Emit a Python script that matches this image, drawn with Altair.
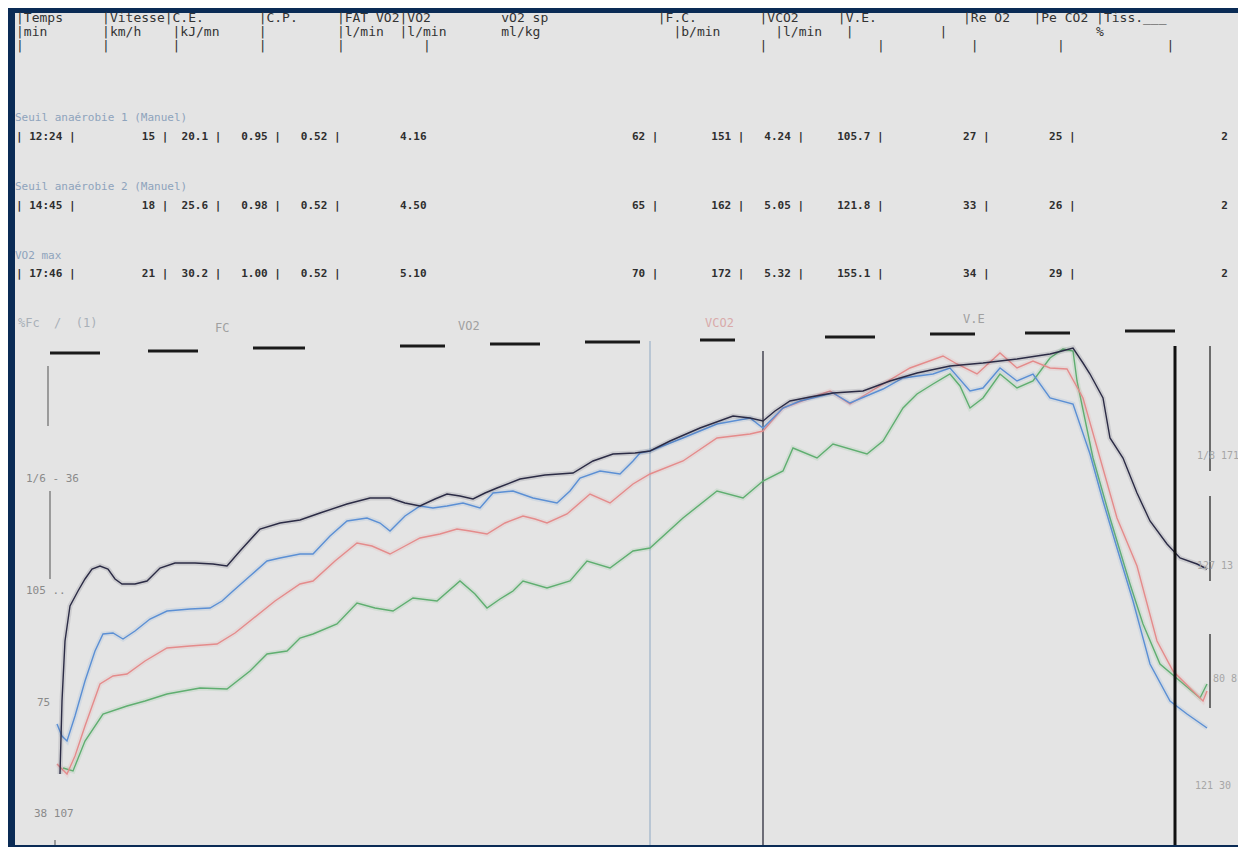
import altair as alt
import pandas as pd

# ---------------- printed table (header + three threshold rows) ----------------
header_1 = ("|Temps     |Vitesse|C.E.       |C.P.     |FAT VO2|VO2         vO2 sp"
            "              |F.C.        |VCO2     |V.E.           |Re O2   |Pe CO2 |Tiss.___")
header_2 = ("|min       |km/h    |kJ/mn     |         |l/min  |l/min       ml/kg"
            "                 |b/min       |l/min   |           |                   %")
header_3 = ("|          |        |          |         |          |"
            "                                          |              |           |          |             |")

section_titles = ["Seuil anaérobie 1 (Manuel)", "Seuil anaérobie 2 (Manuel)", "VO2 max"]
times = ["12:24", "14:45", "17:46"]
speed = ["15", "18", "21"]
ce = ["20.1", "25.6", "30.2"]
cp = ["0.95", "0.98", "1.00"]
fat_vo2 = ["0.52", "0.52", "0.52"]
vo2 = ["4.16", "4.50", "5.10"]
vo2_kg = ["62", "65", "70"]
fc = ["151", "162", "172"]
vco2 = ["4.24", "5.05", "5.32"]
ve = ["105.7", "121.8", "155.1"]
re_o2 = ["27", "33", "34"]
pe_co2 = ["25", "26", "29"]
tail = ["2", "2", "2"]

# printout line numbers (half line feeds of the printer)
header_line_no = [0, 1.12, 2.24]
title_line_no = [8, 13.5, 19]
row_line_no = [9.5, 15, 20.5]

FIELD_W = [14, 8, 9, 9, 13, 35, 13, 9, 12, 16, 13, 23]
FIELD_BAR = [True, True, True, True, False, True, True, True, True, True, True, False]
NBSP = "\u00a0"


def keep_spaces(s):
    return s.replace(" ", NBSP)


def fmt_row(i):
    s = f"| {times[i]} |"
    vals = [speed[i], ce[i], cp[i], fat_vo2[i], vo2[i], vo2_kg[i], fc[i],
            vco2[i], ve[i], re_o2[i], pe_co2[i], tail[i]]
    for v, w, b in zip(vals, FIELD_W, FIELD_BAR):
        s += (v.rjust(w - 2) + " |") if b else v.rjust(w)
    return s


hdr_df = pd.DataFrame({"line": header_line_no,
                       "text": [keep_spaces(h) for h in (header_1, header_2, header_3)]})
ttl_df = pd.DataFrame({"line": title_line_no, "text": section_titles})
row_df = pd.DataFrame({"line": row_line_no, "text": [keep_spaces(fmt_row(i)) for i in range(3)]})

# ---------------- curves (time in min, value in % of the graph scale) ----------------
black_t = [0.06, 0.10, 0.16, 0.26, 0.42, 0.56, 0.70, 0.86, 1.02, 1.16, 1.30, 1.56, 1.80, 2.06, 2.36,
           2.76, 3.12, 3.40, 3.66, 4.06, 4.46, 4.86, 5.26, 5.80, 6.26, 6.66, 6.96, 7.26, 7.56, 7.80,
           8.06, 8.32, 8.56, 8.80, 9.26, 9.76, 10.32, 10.72, 11.12, 11.56, 11.86, 12.26, 12.86, 13.52,
           13.86, 14.12, 14.36, 14.66, 15.06, 15.52, 16.12, 16.66, 17.20, 17.86, 18.52, 19.20, 19.86,
           20.10, 20.32, 20.52, 20.66, 20.92, 21.06, 21.32, 21.60, 21.86, 22.20, 22.46, 22.80, 23.00]
black_v = [14.2, 28.8, 40.8, 47.8, 50.8, 53.2, 55.2, 55.8, 55.2, 53.2, 52.2, 52.2, 52.8, 55.4, 56.4,
           56.4, 56.2, 55.8, 58.8, 63.2, 64.4, 65.0, 66.4, 68.2, 69.4, 69.4, 68.4, 67.8, 69.2, 70.2,
           69.8, 69.2, 70.4, 71.4, 73.2, 74.0, 74.4, 76.8, 78.2, 78.4, 78.8, 80.8, 83.4, 85.8,
           85.4, 84.8, 86.8, 88.8, 89.6, 90.4, 90.8, 92.8, 94.4, 95.8, 96.4, 97.2, 98.2,
           98.8, 99.4, 96.4, 94.2, 89.4, 81.4, 77.4, 70.4, 64.8, 60.2, 57.4, 56.2, 55.2]

blue_t = [0.00, 0.10, 0.20, 0.36, 0.56, 0.76, 0.92, 1.12, 1.32, 1.56, 1.86, 2.20, 2.66, 3.06, 3.30,
          3.52, 3.86, 4.20, 4.46, 4.86, 5.12, 5.46, 5.80, 6.20, 6.46, 6.66, 6.96, 7.26, 7.52, 7.80,
          8.12, 8.46, 8.72, 9.12, 9.52, 10.00, 10.26, 10.46, 10.86, 11.26, 11.52, 11.66, 11.86, 12.52,
          13.20, 13.86, 14.12, 14.52, 14.86, 15.52, 15.86, 16.52, 16.92, 17.52, 17.86, 18.26, 18.52,
          18.86, 19.20, 19.52, 19.86, 20.32, 20.66, 20.92, 21.20, 21.52, 21.86, 22.26, 22.60, 23.00]
blue_v = [24.2, 21.8, 20.8, 25.8, 32.8, 38.8, 42.2, 42.4, 41.2, 42.8, 45.2, 46.8, 47.2, 47.4, 48.8,
          50.8, 53.8, 56.8, 57.4, 58.2, 58.2, 61.8, 64.8, 65.4, 64.4, 62.8, 65.8, 67.8, 67.4, 67.8,
          68.4, 67.4, 70.4, 70.8, 69.4, 68.4, 70.8, 73.4, 74.8, 74.2, 76.8, 78.4, 78.8, 81.4,
          84.2, 85.4, 83.4, 87.4, 88.8, 90.4, 88.4, 91.2, 93.4, 94.2, 95.4, 90.8, 91.4,
          95.4, 92.8, 94.2, 89.4, 88.2, 78.2, 68.8, 59.4, 48.8, 36.2, 28.8, 26.2, 23.4]

red_t = [0.00, 0.20, 0.36, 0.56, 0.86, 1.12, 1.40, 1.76, 2.20, 2.66, 3.20, 3.56, 3.86, 4.36, 4.86,
         5.12, 5.56, 6.00, 6.30, 6.66, 6.96, 7.26, 7.66, 8.00, 8.26, 8.60, 8.96, 9.32, 9.56, 9.80,
         10.20, 10.66, 11.06, 11.52, 11.86, 12.52, 13.20, 13.86, 14.12, 14.52, 15.06, 15.46, 15.86,
         16.52, 17.06, 17.72, 18.00, 18.40, 18.86, 19.20, 19.52, 19.86, 20.20, 20.52, 20.86, 21.20,
         21.60, 22.00, 22.32, 22.72, 22.92, 23.00]
red_v = [16.2, 14.2, 17.8, 23.8, 32.2, 33.8, 34.2, 36.8, 39.4, 39.8, 40.2, 42.4, 44.8, 48.8, 52.2,
         52.8, 56.8, 60.4, 59.8, 58.2, 59.8, 61.4, 62.2, 63.2, 62.8, 62.2, 64.4, 65.8, 65.2, 64.4,
         66.2, 70.2, 68.4, 72.2, 74.2, 76.8, 81.4, 82.2, 82.8, 87.4, 89.4, 90.8, 88.2,
         92.2, 95.4, 97.8, 96.2, 94.2, 98.4, 95.4, 96.8, 95.4, 95.2, 89.4, 77.4, 65.4,
         55.8, 40.8, 34.8, 30.8, 28.8, 30.8]

green_t = [0.12, 0.32, 0.56, 0.92, 1.40, 1.76, 2.20, 2.86, 3.40, 3.86, 4.20, 4.60, 4.86, 5.12, 5.60,
           6.00, 6.36, 6.72, 7.12, 7.60, 8.06, 8.36, 8.60, 8.86, 9.12, 9.32, 9.80, 10.26, 10.60,
           11.06, 11.52, 11.86, 12.52, 13.20, 13.72, 14.12, 14.52, 14.72, 15.20, 15.52, 16.20,
           16.52, 16.92, 17.20, 17.52, 17.86, 18.06, 18.26, 18.52, 18.86, 19.20, 19.52, 19.86,
           20.12, 20.32, 20.40, 20.72, 21.06, 21.46, 21.72, 22.06, 22.46, 22.86, 23.00]
green_v = [15.4, 14.8, 20.8, 26.2, 27.8, 28.8, 30.2, 31.4, 31.2, 34.8, 38.2, 38.8, 41.4, 42.2, 44.2,
           48.4, 47.4, 46.8, 49.4, 48.8, 52.8, 50.2, 47.4, 49.2, 50.8, 52.8, 51.4, 52.8, 56.8,
           55.4, 58.8, 59.4, 65.4, 70.8, 69.4, 72.8, 74.8, 79.4, 77.4, 80.2, 78.2,
           80.8, 87.4, 90.2, 92.2, 94.2, 91.8, 87.4, 89.4, 94.2, 91.4, 92.8, 97.4,
           99.2, 98.8, 92.8, 77.4, 65.4, 52.2, 44.2, 36.2, 32.8, 29.4, 32.2]

series_names = ["VE", "VCO2", "VO2", "FC"]
series_colors = ["#5fae70", "#e48b8b", "#5b8fd4", "#2b2b45"]

curves = pd.concat([
    pd.DataFrame({"t": green_t, "v": green_v, "s": "VE"}),
    pd.DataFrame({"t": red_t, "v": red_v, "s": "VCO2"}),
    pd.DataFrame({"t": blue_t, "v": blue_v, "s": "VO2"}),
    pd.DataFrame({"t": black_t, "v": black_v, "s": "FC"}),
])

# vertical markers (time, top value)
thr1_line = pd.DataFrame({"t": [11.86], "v0": [0.0], "v1": [100.8]})
thr2_line = pd.DataFrame({"t": [14.12], "v0": [0.0], "v1": [98.8]})
end_line = pd.DataFrame({"t": [22.36], "v0": [0.0], "v1": [99.8]})
right_ticks = pd.DataFrame({"t": [23.06, 23.06, 23.06], "v0": [74.8, 52.8, 27.4], "v1": [99.8, 69.8, 42.2]})
left_ticks = pd.DataFrame({"t": [-0.18, -0.14, -0.04], "v0": [83.8, 53.2, 0.0], "v1": [95.8, 70.8, 1.0]})

# printed scale dashes along the top of the graph
dash_t0 = [-0.14, 1.82, 3.92, 6.86, 8.66, 10.56, 12.86, 15.36, 17.46, 19.36, 21.36]
dash_t1 = [0.86, 2.82, 4.96, 7.76, 9.66, 11.66, 13.56, 16.36, 18.36, 20.26, 22.36]
dash_v = [98.4, 98.8, 99.4, 99.8, 100.2, 100.6, 101.0, 101.6, 102.2, 102.4, 102.8]
dashes = pd.DataFrame({"t0": dash_t0, "t1": dash_t1, "v": dash_v})

graph_labels = pd.DataFrame({
    "t": [-0.78, 3.16, 8.02, 12.96, 18.12],
    "v": [104.4, 103.4, 103.8, 104.4, 105.2],
    "text": ["%Fc\u00a0\u00a0/\u00a0\u00a0(1)", "FC", "VO2", "VCO2", "V.E"],
    "c": ["#a9b0b8", "#a0a0a0", "#a0a0a0", "#d9aaaa", "#a0a0a0"],
})
left_labels = pd.DataFrame({
    "t": [-0.62, -0.62, -0.40, -0.46],
    "v": [73.2, 50.8, 28.4, 6.2],
    "text": ["1/6\u00a0-\u00a036", "105\u00a0..", "75", "38\u00a0107"],
})
right_labels = pd.DataFrame({
    "t": [22.80, 22.80, 23.12, 22.76],
    "v": [77.8, 55.8, 33.2, 11.8],
    "text": ["1/8\u00a0171", "127\u00a013", "80\u00a08", "121\u00a030"],
})

# ---------------- chart ----------------
W = 1223
FONT = "DejaVu Sans Mono"

ys = alt.Scale(domain=[-0.4, 22.8], reverse=True, nice=False, zero=False)
hy = alt.Y("line:Q", scale=ys, axis=None)

header_panel = alt.layer(
    alt.Chart(hdr_df).mark_text(align="left", baseline="middle", font=FONT, fontSize=13,
                                color="#333333").encode(x=alt.value(1), y=hy, text="text:N"),
    alt.Chart(ttl_df).mark_text(align="left", baseline="middle", font=FONT, fontSize=11,
                                color="#8ea3bc").encode(x=alt.value(0), y=hy, text="text:N"),
    alt.Chart(row_df).mark_text(align="left", baseline="middle", font=FONT, fontSize=11,
                                fontWeight="bold", color="#2e2e2e").encode(x=alt.value(1), y=hy, text="text:N"),
).properties(width=W, height=290)

xs = alt.Scale(domain=[-0.84, 23.62], nice=False, zero=False)
vs = alt.Scale(domain=[0, 108.4], nice=False, zero=False)
X = alt.X("t:Q", scale=xs, axis=None)
Y = alt.Y("v:Q", scale=vs, axis=None)
col = alt.Color("s:N", scale=alt.Scale(domain=series_names, range=series_colors), legend=None)


def rules(df, color, width):
    return alt.Chart(df).mark_rule(color=color, strokeWidth=width).encode(
        x=X, y=alt.Y("v0:Q", scale=vs, axis=None), y2="v1:Q")


layers = [
    rules(thr1_line, "#9db3c9", 1.2),
    rules(thr2_line, "#3a3a48", 1.4),
    rules(left_ticks, "#6a6a6a", 1.2),
    rules(right_ticks, "#444444", 1.5),
]
for name in series_names:
    base = alt.Chart(curves).transform_filter(alt.datum.s == name)
    layers.append(base.mark_line(strokeWidth=5, opacity=0.13, clip=True).encode(x=X, y=Y, color=col))
    layers.append(base.mark_line(strokeWidth=1.4, clip=True).encode(x=X, y=Y, color=col))

layers += [
    rules(end_line, "#111111", 3),
    alt.Chart(dashes).mark_rule(color="#1a1a1a", strokeWidth=3).encode(
        x=alt.X("t0:Q", scale=xs, axis=None), x2="t1:Q", y=Y),
    alt.Chart(graph_labels).mark_text(align="left", baseline="middle", font=FONT, fontSize=12,
                                      clip=True).encode(x=X, y=Y, text="text:N",
                                                        color=alt.Color("c:N", scale=None)),
    alt.Chart(left_labels).mark_text(align="left", baseline="middle", font=FONT, fontSize=11,
                                     color="#8a8a8a", clip=True).encode(x=X, y=Y, text="text:N"),
    alt.Chart(right_labels).mark_text(align="left", baseline="middle", font=FONT, fontSize=10,
                                      color="#a6a6a6", clip=True).encode(x=X, y=Y, text="text:N"),
]

graph_panel = alt.layer(*layers).properties(width=W, height=542)

chart = alt.vconcat(header_panel, graph_panel, spacing=0).properties(
    background="#0a2b55",
    padding={"left": 7, "top": 4, "right": 0, "bottom": 0},
).configure_view(fill="#e4e4e4", strokeWidth=0)

chart.save("out.html", embed_options={"renderer": "svg", "actions": False})
